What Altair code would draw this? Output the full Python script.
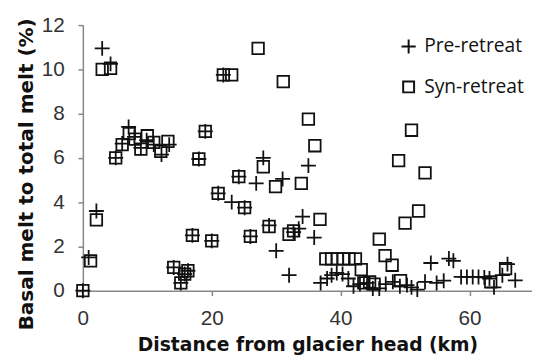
import altair as alt
import pandas as pd

series_names = ["Pre-retreat", "Syn-retreat"]
x_ticks = [0, 20, 40, 60]
y_ticks = [0, 2, 4, 6, 8, 10, 12]

pre_x = [0.0, 0.9, 2.1, 3.0, 4.3, 5.1, 6.1, 7.1, 8.0, 9.0, 9.9, 11.0, 12.2, 13.4,
         14.1, 15.2, 15.8, 16.3, 17.0, 18.0, 19.0, 20.0, 21.0, 21.8, 23.1, 24.2,
         25.1, 26.0, 26.9, 28.0, 28.9, 30.0, 31.0, 32.0, 32.7, 33.5, 34.1, 35.0,
         35.9, 36.9, 37.9, 38.6, 39.4, 40.3, 41.2, 42.0, 43.0, 44.1, 45.0, 46.0,
         47.0, 48.1, 49.2, 50.3, 51.0, 51.9, 53.1, 54.0, 54.9, 56.0, 56.8, 57.5,
         58.7, 59.6, 60.5, 61.4, 62.3, 63.1, 63.8, 65.1, 65.9, 67.1]
pre_y = [0.0, 1.5, 3.6, 10.95, 10.25, 6.0, 6.65, 7.4, 6.95, 6.45, 6.8, 6.6, 6.15, 6.6,
         1.05, 0.35, 0.75, 0.9, 2.5, 5.95, 7.2, 2.25, 4.4, 9.75, 4.0, 5.15,
         3.75, 2.45, 4.85, 6.0, 2.95, 1.8, 5.05, 0.7, 2.65, 2.8, 3.35, 5.65,
         2.4, 0.35, 0.55, 0.7, 0.8, 0.75, 0.55, 0.2, 0.3, 0.35, 0.1, 0.1,
         0.3, 0.4, 0.2, 0.25, 0.15, 0.05, 0.4, 1.25, 0.35, 0.45, 1.45, 1.35,
         0.62, 0.62, 0.62, 0.62, 0.6, 0.55, 0.15, 0.7, 1.2, 0.47]

syn_x = [0.0, 1.2, 2.1, 3.0, 4.3, 5.1, 6.1, 7.2, 8.1, 9.0, 10.0, 11.0, 12.1, 13.2,
         14.1, 15.2, 15.8, 16.3, 17.0, 18.0, 19.0, 20.0, 21.0, 21.8, 23.1, 24.2,
         25.1, 26.0, 27.2, 28.0, 28.9, 29.9, 31.1, 32.0, 32.7, 33.9, 35.0, 36.0,
         36.8, 37.7, 38.6, 39.5, 40.4, 41.3, 42.3, 43.2, 43.6, 44.5, 45.2, 46.0,
         46.9, 48.0, 49.0, 49.3, 50.0, 51.0, 52.1, 53.1, 63.3, 65.6]
syn_y = [0.0, 1.35, 3.2, 10.0, 10.05, 6.0, 6.6, 7.1, 6.85, 6.4, 7.0, 6.7, 6.3, 6.75,
         1.05, 0.35, 0.75, 0.9, 2.5, 5.95, 7.2, 2.25, 4.4, 9.75, 9.75, 5.15,
         3.75, 2.45, 10.95, 5.6, 2.9, 4.7, 9.45, 2.55, 2.7, 4.85, 7.75, 6.55,
         3.22, 1.44, 1.44, 1.44, 1.44, 1.44, 1.44, 0.95, 0.35, 0.4, 0.3, 2.33,
         1.58, 1.15, 5.88, 0.45, 3.05, 7.25, 3.6, 5.32, 0.4, 1.0]

df = pd.concat([
    pd.DataFrame({"x": pre_x, "y": pre_y, "series": series_names[0]}),
    pd.DataFrame({"x": syn_x, "y": syn_y, "series": series_names[1]}),
], ignore_index=True)

PLUS = "M-1.1,0H1.1M0,-1.1V1.1"
SQUARE = "M-0.85,-0.85H0.85V0.85H-0.85Z"

chart = alt.Chart(df).mark_point(
    filled=False, opacity=1, strokeWidth=1.8, color="#111", size=190
).encode(
    x=alt.X("x:Q",
            scale=alt.Scale(domain=[0, 69.7], nice=False, zero=False),
            axis=alt.Axis(values=x_ticks, title="Distance from glacier head (km)",
                          grid=False, labelFlush=False, labelPadding=12,
                          titleX=228, titleY=61, titleBaseline="alphabetic")),
    y=alt.Y("y:Q",
            scale=alt.Scale(domain=[0, 12], nice=False),
            axis=alt.Axis(values=y_ticks, title="Basal melt to total melt (%)",
                          grid=False, labelPadding=14,
                          titleX=-51, titleY=151, titleBaseline="alphabetic",
                          titleAlign="center")),
    shape=alt.Shape("series:N",
                    scale=alt.Scale(domain=series_names, range=[PLUS, SQUARE]),
                    legend=alt.Legend(title=None, orient="none", legendX=321, legendY=12,
                                      labelFont="Open Sans", labelFontSize=19.5,
                                      labelColor="#111", symbolSize=170,
                                      symbolStrokeWidth=2, symbolStrokeColor="#111",
                                      symbolFillColor="transparent",
                                      rowPadding=19, labelOffset=6, padding=0)),
).properties(
    width=456, height=269.6,
    autosize=alt.AutoSizeParams(type="none"),
    padding={"left": 76, "top": 14.7, "right": 0, "bottom": 67.7},
).configure_view(stroke=None).configure_axis(
    domainColor="#888", domainWidth=1.5, tickColor="#888", tickWidth=1.5, tickSize=5,
    labelFont="Liberation Sans", labelFontSize=21, labelColor="#333",
    titleFont="DejaVu Sans", titleFontWeight="bold", titleFontSize=19, titleColor="#111",
).configure_axisY(titleFontSize=20.3)

chart.save("out.html", embed_options={"renderer": "svg", "actions": False})
